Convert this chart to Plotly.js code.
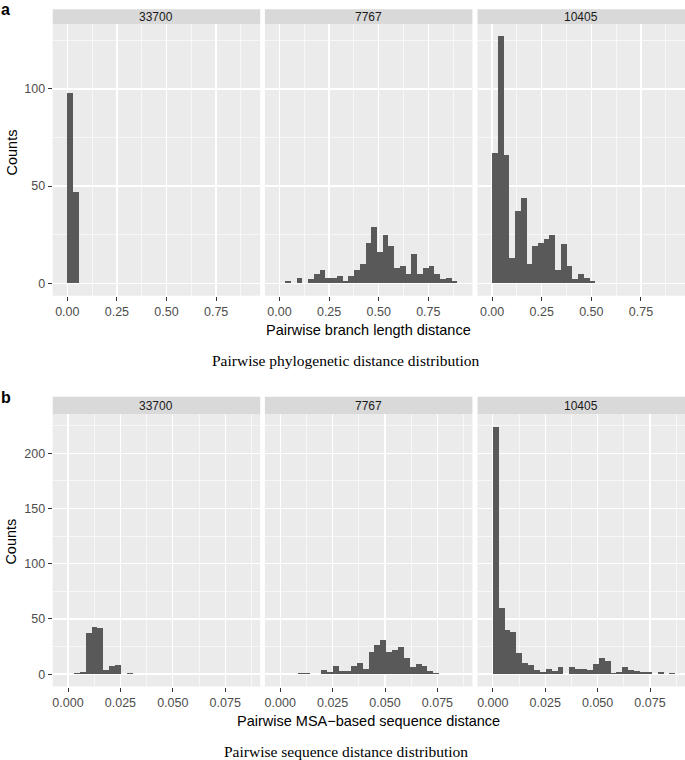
<!DOCTYPE html>
<html>
<head>
<meta charset="utf-8">
<script src="https://cdn.plot.ly/plotly-3.0.1.min.js"></script>
<style>html,body{margin:0;padding:0;background:#fff;}#chart{width:685px;height:760px;}</style>
</head>
<body>
<div id="chart"></div>
<script>
// ---------- DATA ----------
const facetNames = ["33700", "7767", "10405"];

// Panel a: pairwise branch length distance, counts per bin (bin 0 starts at 0)
const binWidthA = 0.0289;
const countsA_33700 = [98, 47];
const countsA_7767  = [0, 1, 0, 3, 0, 2, 5, 7, 3, 3, 4, 1, 4, 7, 10, 21, 29, 16, 25, 19, 8, 9, 5, 15, 5, 8, 9, 5, 2, 3, 1];
const countsA_10405 = [67, 127, 66, 13, 37, 44, 10, 19, 21, 23, 25, 7, 20, 9, 2, 5, 3, 1];

// Panel b: pairwise MSA-based sequence distance
const binWidthB = 0.00281;
const countsB_33700 = [0, 1, 2, 37, 43, 42, 4, 7, 8, 0, 1];
const countsB_7767  = [0, 0, 0, 1, 1, 0, 0, 4, 2, 7, 3, 3, 7, 10, 5, 20, 26, 31, 20, 22, 25, 15, 6, 9, 7, 3, 1];
const countsB_10405 = [224, 60, 40, 38, 19, 10, 8, 4, 2, 5, 3, 6, 0, 6, 5, 5, 4, 9, 15, 12, 1, 2, 6, 4, 3, 2, 2, 0, 2, 0, 1];

const xTickValsA = [0, 0.25, 0.5, 0.75];
const xTickTextA = ["0.00", "0.25", "0.50", "0.75"];
const yTickValsA = [0, 50, 100];
const xTickValsB = [0, 0.025, 0.05, 0.075];
const xTickTextB = ["0.000", "0.025", "0.050", "0.075"];
const yTickValsB = [0, 50, 100, 150, 200];

const xTitleA = "Pairwise branch length distance";
const xTitleB = "Pairwise MSA\u2212based sequence distance";
const captionA = "Pairwise phylogenetic distance distribution";
const captionB = "Pairwise sequence distance distribution";
const yTitle = "Counts";

// ---------- LAYOUT GEOMETRY ----------
const W = 685, H = 760;
const px = v => v / W;
const py = v => 1 - v / H;
const facetX = [[52.7, 260.2], [264.9, 472.4], [477.5, 685]];
const panelA = {top: 24, bottom: 295.7, stripTop: 9.3, letterY: 0, letterAnchor: "top"};
const panelB = {top: 414.3, bottom: 686.5, stripTop: 396.7, letterY: 397.5, letterAnchor: "middle"};
const xRangeA = [-0.0736, 0.9720], yRangeA = [-6.35, 133.35];
const xRangeB = [-0.0073, 0.0917], yRangeB = [-11.2, 235.2];

const FONT = "Liberation Sans, Arial, Helvetica, sans-serif";
const SERIF = "Liberation Serif, Times New Roman, serif";
const barColor = "#595959";

function mids(vals) {
  const out = [];
  const step = vals[1] - vals[0];
  for (let i = -1; i < vals.length + 1; i++) out.push(vals[0] + (i + 0.5) * step);
  return out;
}

const traces = [];
const layout = {
  width: W, height: H,
  margin: {l: 0, r: 0, t: 0, b: 0},
  paper_bgcolor: "#ffffff",
  plot_bgcolor: "#EBEBEB",
  showlegend: false,
  bargap: 0,
  shapes: [],
  annotations: []
};

const panels = [
  {counts: [countsA_33700, countsA_7767, countsA_10405], bw: binWidthA, geo: panelA,
   xr: xRangeA, yr: yRangeA, xtv: xTickValsA, xtt: xTickTextA, ytv: yTickValsA},
  {counts: [countsB_33700, countsB_7767, countsB_10405], bw: binWidthB, geo: panelB,
   xr: xRangeB, yr: yRangeB, xtv: xTickValsB, xtt: xTickTextB, ytv: yTickValsB}
];

let axisNum = 1;
panels.forEach((p, pi) => {
  for (let f = 0; f < 3; f++) {
    const n = axisNum++;
    const xa = "x" + (n === 1 ? "" : n), ya = "y" + (n === 1 ? "" : n);
    const xk = "xaxis" + (n === 1 ? "" : n), yk = "yaxis" + (n === 1 ? "" : n);
    const counts = p.counts[f];
    traces.push({
      type: "bar",
      x: counts.map((c, i) => (i + 0.5) * p.bw),
      y: counts,
      width: p.bw,
      marker: {color: barColor, line: {width: 0}},
      xaxis: xa, yaxis: ya,
      hoverinfo: "x+y"
    });
    layout[xk] = {
      domain: [px(facetX[f][0]), px(facetX[f][1])],
      anchor: ya,
      range: p.xr, autorange: false, fixedrange: true,
      tickmode: "array", tickvals: p.xtv, ticktext: p.xtt,
      ticks: "outside", ticklen: 4, tickwidth: 1, tickcolor: "#333333",
      tickfont: {family: FONT, size: 12.5, color: "#4D4D4D"},
      showgrid: true, gridcolor: "#FFFFFF", gridwidth: 1.3,
      minor: {tickmode: "array", tickvals: mids(p.xtv), showgrid: true, gridcolor: "#FFFFFF", gridwidth: 0.6, ticks: ""},
      zeroline: false, showline: false
    };
    layout[yk] = {
      domain: [py(p.geo.bottom), py(p.geo.top)],
      anchor: xa,
      range: p.yr, autorange: false, fixedrange: true,
      tickmode: "array", tickvals: p.ytv, ticktext: p.ytv.map(String),
      ticks: f === 0 ? "outside" : "", ticklen: 4, tickwidth: 1, tickcolor: "#333333",
      showticklabels: f === 0,
      tickfont: {family: FONT, size: 12.5, color: "#4D4D4D"},
      showgrid: true, gridcolor: "#FFFFFF", gridwidth: 1.3,
      minor: {tickmode: "array", tickvals: mids(p.ytv), showgrid: true, gridcolor: "#FFFFFF", gridwidth: 0.6, ticks: ""},
      zeroline: false, showline: false
    };
    // strip
    layout.shapes.push({
      type: "rect", xref: "paper", yref: "paper", layer: "below",
      x0: px(facetX[f][0]), x1: px(facetX[f][1]),
      y0: py(p.geo.top), y1: py(p.geo.stripTop),
      fillcolor: "#D9D9D9", line: {width: 0}
    });
    layout.annotations.push({
      xref: "paper", yref: "paper", showarrow: false,
      x: px((facetX[f][0] + facetX[f][1]) / 2), y: py((p.geo.top + p.geo.stripTop) / 2),
      xanchor: "center", yanchor: "middle",
      text: facetNames[f], font: {family: FONT, size: 12, color: "#1A1A1A"}
    });
  }
  // y title
  layout.annotations.push({
    xref: "paper", yref: "paper", showarrow: false,
    x: px(11), y: py((p.geo.stripTop + p.geo.bottom) / 2),
    xanchor: "center", yanchor: "middle", textangle: -90,
    text: yTitle, font: {family: FONT, size: 14.5, color: "#000000"}
  });
  // x title
  layout.annotations.push({
    xref: "paper", yref: "paper", showarrow: false,
    x: px((facetX[0][0] + facetX[2][1]) / 2), y: py(p.geo.bottom + 34),
    xanchor: "center", yanchor: "middle",
    text: pi === 0 ? xTitleA : xTitleB, font: {family: FONT, size: 14.5, color: "#000000"}
  });
  // caption
  layout.annotations.push({
    xref: "paper", yref: "paper", showarrow: false,
    x: px(346), y: py(p.geo.bottom + 65),
    xanchor: "center", yanchor: "middle",
    text: pi === 0 ? captionA : captionB, font: {family: SERIF, size: 15.5, color: "#000000"}
  });
  // panel letter
  layout.annotations.push({
    xref: "paper", yref: "paper", showarrow: false, borderpad: 0,
    x: px(0), y: py(p.geo.letterY),
    xanchor: "left", yanchor: p.geo.letterAnchor,
    text: "<b>" + (pi === 0 ? "a" : "b") + "</b>", font: {family: FONT, size: 16, color: "#000000"}
  });
});

Plotly.newPlot("chart", traces, layout, {displayModeBar: false, staticPlot: true});
</script>
</body>
</html>
